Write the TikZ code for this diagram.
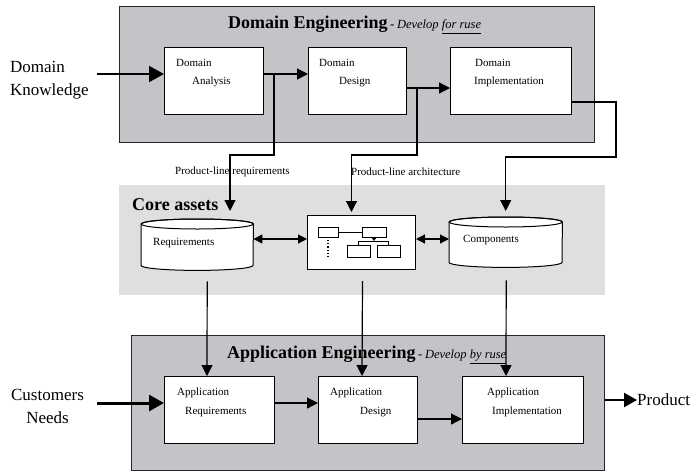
\documentclass[tikz,border=0pt]{standalone}
\usepackage{fontspec}
\setmainfont{Liberation Serif}
\usetikzlibrary{arrows.meta,calc,positioning}
\definecolor{enggray}{RGB}{196,195,200}
\definecolor{coregray}{RGB}{223,223,223}

\begin{document}
\begin{tikzpicture}[x=1pt,y=-1pt,
  engbox/.style={draw=black!85, fill=enggray, line width=1pt, anchor=north west, inner sep=0pt},
  blk/.style={draw, fill=white, line width=1pt, anchor=north west, inner sep=0pt},
  cylarea/.style={anchor=north west, inner sep=0pt},
  cylline/.style={draw, fill=white, line width=1pt},
  small/.style={font=\fontsize{11}{13}\selectfont, inner sep=0pt, anchor=west},
  big/.style={font=\fontsize{17}{23}\selectfont, inner sep=0pt},
  ttl/.style={inner sep=0pt, anchor=west},
  arr/.style={-{Triangle[length=11pt,width=11pt]}, line width=1.2pt},
  darr/.style={{Triangle[length=9pt,width=9pt]}-{Triangle[length=9pt,width=9pt]}, line width=1.2pt},
  bigarr/.style={-{Triangle[length=15pt,width=16pt]}, line width=#1},
  bigarr/.default=2pt]
\fill[white] (0,0) rectangle (695,472);
\useasboundingbox (0,0) rectangle (695,472);

% domain engineering
\node[engbox, minimum width=475, minimum height=136] (deng) at (119,6) {};
\node[ttl] (dtitle) at (228,25) {{\fontsize{18}{20}\selectfont\bfseries Domain Engineering} {\fontsize{13}{14}\selectfont -} {\fontsize{12.5}{14}\selectfont\itshape Develop \underline{for ruse}}};
\node[blk, minimum width=99, minimum height=67] (da) at (164,47) {};
\node[blk, minimum width=98, minimum height=67] (dd) at (308,47) {};
\node[blk, minimum width=121, minimum height=67] (di) at (450,47) {};
\node[small] (da1) at (176,63) {Domain};
\node[small] (da2) at (192,82) {Analysis};
\node[small] (dd1) at (319,63) {Domain};
\node[small] (dd2) at (339,82) {Design};
\node[small] (di1) at (475,63) {Domain};
\node[small] (di2) at (474,82) {Implementation};

\node[big, align=left, anchor=west] (dk) at (10,80) {Domain\\Knowledge};
\coordinate (dkin) at (97,74);
\draw[bigarr] (dkin) -- (dkin -| da.west);
\draw[arr] (da.east |- dkin) -- (dd.west |- dkin);
\draw[arr] ($(dd.north east)+(0,41)$) -- ($(di.north west)+(0,41)$);

% core assets
\node[fill=coregray, anchor=north west, minimum width=486, minimum height=110, inner sep=0pt] (core) at (119,185) {};
\node[ttl, font=\fontsize{18}{20}\selectfont\bfseries] (coret) at (132,205) {Core assets};
\node[cylarea, minimum width=112, minimum height=51] (req) at (141,219) {};
\draw[cylline] ($(req.north west)+(0,5)$) -- ($(req.south west)+(0,-5)$)
  arc[start angle=180, end angle=0, x radius=56, y radius=5]
  -- ($(req.north east)+(0,5)$) arc[start angle=0, end angle=-180, x radius=56, y radius=5] -- cycle;
\draw[line width=1pt] ($(req.north)+(0,5)$) ellipse[x radius=56, y radius=5];
\node[small] (reqt) at (153,243) {Requirements};
\node[blk, minimum width=108, minimum height=54] (arch) at (307,215) {};
\node[cylarea, minimum width=113, minimum height=50] (comp) at (449,217) {};
\draw[cylline] ($(comp.north west)+(0,5)$) -- ($(comp.south west)+(0,-5)$)
  arc[start angle=180, end angle=0, x radius=56.5, y radius=5]
  -- ($(comp.north east)+(0,5)$) arc[start angle=0, end angle=-180, x radius=56.5, y radius=5] -- cycle;
\draw[line width=1pt] ($(comp.north)+(0,5)$) ellipse[x radius=56.5, y radius=5];
\node[small] (compt) at (463,240) {Components};

\begin{scope}[shift={(arch.north west)}, line width=0.8pt]
\draw (11,12) rectangle (31,22);
\draw (31,17) -- (55,17);
\draw (55,12) rectangle (79,22);
\draw[dotted, line width=1.2pt] (21,25) -- (21,43);
\draw (40,30) rectangle (63,42);
\draw (70,30) rectangle (93,42);
\draw[-{Triangle[length=3pt,width=4pt]}] (67,22) -- (67,26);
\draw (51,30) -- (51,26) -- (81,26) -- (81,30);
\end{scope}

\draw[darr] (req.east |- 0,239) -- (arch.west |- 0,239);
\draw[darr] (arch.east |- 0,239) -- (comp.west |- 0,239);

% feedback into core assets
\coordinate (j1) at (274,74);
\coordinate (reqin) at (230,211);
\draw[arr] (j1) -- ++(0,81) -| (reqin);
\coordinate (j2) at (417,88);
\draw[arr] (j2) -- ++(0,67) -| ($(arch.north)+(-10,-3)$);
\draw[arr] ($(di.south east)+(0,-13)$) -- ++(44,0) -- ++(0,55) -| ($(comp.north)+(0,-6)$);
\node[small] (plr) at (175,172) {Product-line requirements};
\node[small] (pla) at (351,172) {Product-line architecture};

% application engineering
\node[engbox, minimum width=473, minimum height=135] (aeng) at (131,335) {};
\node[ttl] (atitle) at (227,355) {{\fontsize{18}{20}\selectfont\bfseries Application Engineering} {\fontsize{13}{14}\selectfont -} {\fontsize{12.5}{14}\selectfont\itshape Develop \underline{by ruse}}};
\node[blk, minimum width=110, minimum height=67] (ar) at (164,376) {};
\node[blk, minimum width=99, minimum height=67] (ad) at (318,376) {};
\node[blk, minimum width=121, minimum height=67] (ai) at (462,376) {};
\node[small] (ar1) at (177,393) {Application};
\node[small] (ar2) at (185,412) {Requirements};
\node[small] (ad1) at (330,393) {Application};
\node[small] (ad2) at (360,412) {Design};
\node[small] (ai1) at (487,393) {Application};
\node[small] (ai2) at (492,412) {Implementation};

\draw[arr] ($(req.south)+(10,11)$) -- ($(ar.north west)+(43,0)$);
\draw[arr] ($(arch.south)+(1,11)$) -- ($(ad.north west)+(44,0)$);
\draw[arr] ($(comp.south)+(0.5,13)$) -- ($(ai.north west)+(44,0)$);

\node[big, align=center] (cn) at (47.5,406.5) {Customers\\Needs};
\coordinate (cnin) at (97,403);
\draw[bigarr=3pt] (cnin) -- (cnin -| ar.west);
\draw[arr] (ar.east |- cnin) -- (ad.west |- cnin);
\draw[arr] ($(ad.south east)+(0,-25)$) -- ($(ai.south west)+(0,-25)$);
\node[big, anchor=west] (prod) at (637,400) {Product};
\draw[-{Triangle[length=13pt,width=14pt]}, line width=2.5pt] (aeng.east |- prod.west) -- (prod.west);
\end{tikzpicture}
\end{document}
